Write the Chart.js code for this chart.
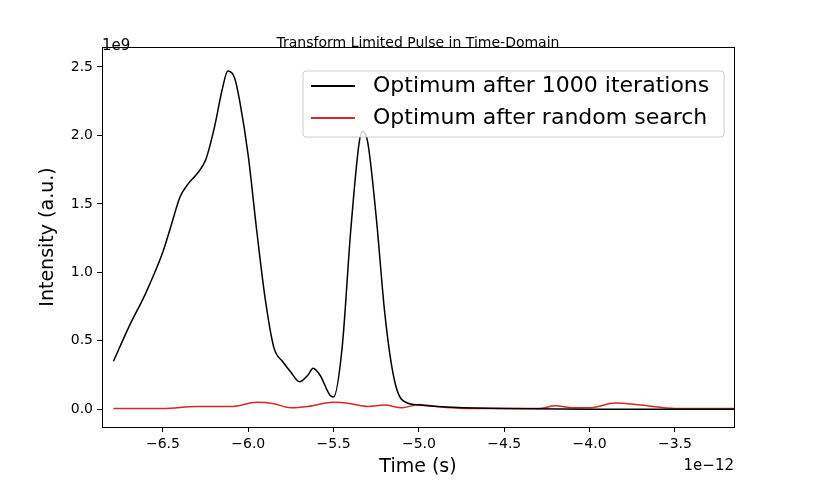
<!DOCTYPE html>
<html><head><script src="https://cdn.jsdelivr.net/npm/chart.js@4"></script>
<style>body{margin:0;background:#fff}#w{width:816px;height:480px}</style></head>
<body><div id="w"><canvas id="c"></canvas></div>
<script>
// x in units of 1e-12 s, y in units of 1e9
const optX = [-6.79,-6.7,-6.6,-6.5,-6.45,-6.4,-6.35,-6.3,-6.25,-6.2,-6.15,-6.12,-6.08,-6.05,-6.0,-5.95,-5.9,-5.85,-5.8,-5.75,-5.7,-5.65,-5.62,-5.58,-5.52,-5.5,-5.45,-5.4,-5.35,-5.33,-5.3,-5.25,-5.2,-5.15,-5.1,-5.0,-4.8,-4.5,-4.0,-3.15];
const optY = [0.35,0.6,0.85,1.15,1.35,1.55,1.65,1.72,1.82,2.05,2.35,2.47,2.42,2.25,1.85,1.3,0.8,0.45,0.35,0.27,0.2,0.25,0.3,0.25,0.1,0.09,0.45,1.3,1.95,2.03,1.95,1.4,0.7,0.25,0.07,0.03,0.015,0.005,0.0,0.0];
const rndX = [-6.79,-6.5,-6.3,-6.1,-5.95,-5.85,-5.75,-5.65,-5.5,-5.4,-5.3,-5.2,-5.1,-5.0,-4.9,-4.7,-4.5,-4.3,-4.2,-4.1,-4.0,-3.85,-3.7,-3.5,-3.15];
const rndY = [0.005,0.005,0.02,0.02,0.05,0.04,0.01,0.02,0.05,0.04,0.02,0.03,0.01,0.035,0.02,0.005,0.005,0.005,0.025,0.01,0.01,0.045,0.03,0.005,0.005];
const labels = ['Optimum after 1000 iterations','Optimum after random search'];
const colors = ['#000000','#d62728'];

const F = 'DejaVu Sans';
const extras = {
  id: 'extras',
  afterDraw(ch) {
    const c = ch.ctx, a = ch.chartArea;
    c.save();
    c.strokeStyle = '#000'; c.lineWidth = 1;
    c.strokeRect(a.left + 0.5, a.top + 0.5, a.right - a.left, a.bottom - a.top);
    c.fillStyle = '#000';
    c.textAlign = 'center'; c.textBaseline = 'middle';
    c.font = '14px ' + F;
    c.fillText('Transform Limited Pulse in Time-Domain', (a.left + a.right) / 2, 43);
    c.font = '19px ' + F;
    c.fillText('Time (s)', (a.left + a.right) / 2, 467);
    c.save(); c.translate(48, (a.top + a.bottom) / 2); c.rotate(-Math.PI / 2);
    c.fillText('Intensity (a.u.)', 0, 0); c.restore();
    c.font = '15px ' + F;
    c.textAlign = 'left'; c.fillText('1e9', 102, 46);
    c.textAlign = 'right'; c.fillText('1e\u221212', 734, 466);
    // legend
    c.font = '22px ' + F;
    const lx = 303, ly = 71, lw = 421, lh = 66;
    c.fillStyle = 'rgba(255,255,255,0.8)'; c.strokeStyle = '#ccc'; c.lineWidth = 1;
    c.beginPath(); c.roundRect(lx, ly, lw, lh, 3); c.fill(); c.stroke();
    labels.forEach((t, i) => {
      const y = 86 + i * 32;
      c.strokeStyle = colors[i]; c.lineWidth = 2;
      c.beginPath(); c.moveTo(311, y); c.lineTo(355, y); c.stroke();
      c.fillStyle = '#000'; c.textAlign = 'left';
      c.fillText(t, 373, y);
    });
    c.restore();
  }
};

new Chart(document.getElementById('c'), {
  type: 'line',
  data: { datasets: [
    { label: labels[0], data: optX.map((x, i) => ({ x, y: optY[i] })), borderColor: colors[0], borderWidth: 1.5, pointRadius: 0, cubicInterpolationMode: 'monotone' },
    { label: labels[1], data: rndX.map((x, i) => ({ x, y: rndY[i] })), borderColor: colors[1], borderWidth: 1.5, pointRadius: 0, cubicInterpolationMode: 'monotone' }
  ]},
  options: {
    responsive: true, maintainAspectRatio: false, animation: false,
    layout: { padding: { top: 47, right: 82 } },
    plugins: { legend: { display: false }, tooltip: { enabled: false } },
    scales: {
      x: { type: 'linear', min: -6.857, max: -3.154,
        grid: { drawOnChartArea: false, drawTicks: true, tickLength: 5, color: '#000' }, border: { color: '#000' },
        afterBuildTicks: s => { s.ticks = [-6.5,-6,-5.5,-5,-4.5,-4,-3.5].map(v => ({ value: v })); },
        ticks: { color: '#000', padding: 4, font: { family: F, size: 14 }, callback: v => v.toFixed(1).replace('-', '\u2212') },
        afterFit: s => { s.height = 53; } },
      y: { min: -0.13, max: 2.646,
        grid: { drawOnChartArea: false, drawTicks: true, tickLength: 5, color: '#000' }, border: { color: '#000' },
        afterBuildTicks: s => { s.ticks = [0,0.5,1,1.5,2,2.5].map(v => ({ value: v })); },
        ticks: { color: '#000', padding: 4, font: { family: F, size: 14 }, callback: v => v.toFixed(1) },
        afterFit: s => { s.width = 102; } }
    }
  },
  plugins: [extras]
});
</script></body></html>
